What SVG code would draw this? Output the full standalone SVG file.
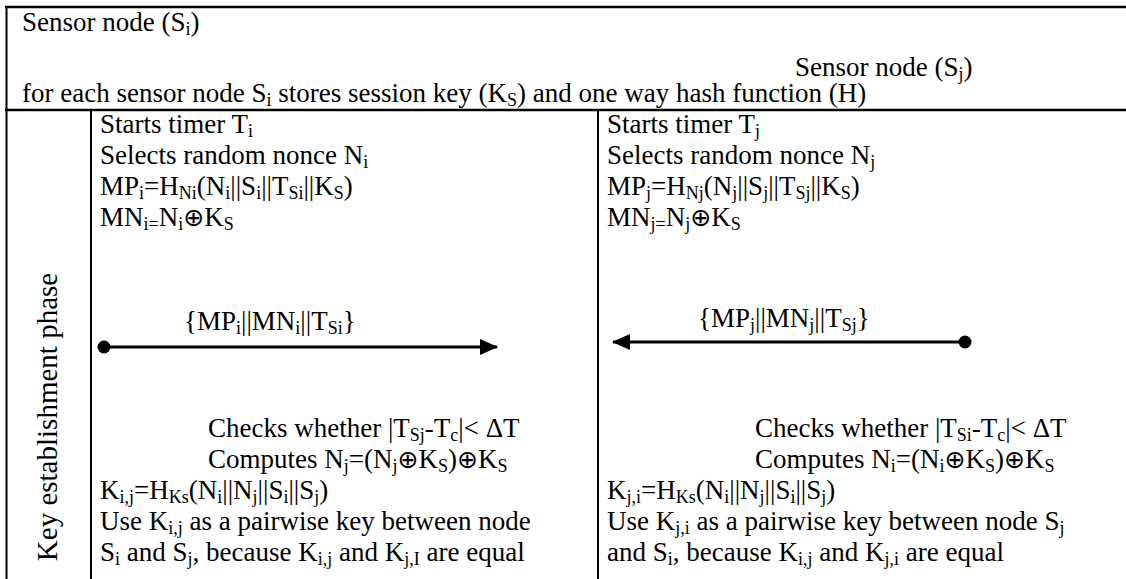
<svg xmlns="http://www.w3.org/2000/svg" width="1126" height="579" viewBox="0 0 1126 579">
<style>
text{font-family:"Liberation Serif","Times New Roman",serif;font-size:27px;fill:#000}
.s{font-size:18px}
.x{font-family:"DejaVu Sans",sans-serif;font-size:25px}
.rot{font-size:29px}
.frame{stroke:#000;fill:none}
.h{stroke-width:2.5}
.v{stroke-width:2}
.msg{stroke:#000;stroke-width:3;fill:none}
</style>
<defs>
<marker id="ah" markerUnits="userSpaceOnUse" markerWidth="18" markerHeight="16" refX="17" refY="8" orient="auto">
<path d="M0,0 L18,8 L0,16 Z" fill="#000"/>
</marker>
</defs>
<rect width="1126" height="579" fill="#fff"/>
<g id="frame" class="frame">
<line class="h" x1="5" y1="7" x2="1126" y2="7"/>
<line class="v" x1="6.5" y1="6" x2="6.5" y2="579"/>
<line class="h" x1="5" y1="110" x2="1126" y2="110"/>
<line class="v" x1="91" y1="110" x2="91" y2="579"/>
<line class="v" x1="598" y1="110" x2="598" y2="579"/>
</g>
<g id="header">
<text x="22" y="31">Sensor node (S<tspan class="s" dy="4">i</tspan><tspan dy="-4">)</tspan></text>
<text x="795" y="76">Sensor node (S<tspan class="s" dy="4">j</tspan><tspan dy="-4">)</tspan></text>
<text x="22" y="102">for each sensor node S<tspan class="s" dy="4">i</tspan><tspan dy="-4"> stores session key (K</tspan><tspan class="s" dy="4">S</tspan><tspan dy="-4">) and one way hash function (H)</tspan></text>
</g>
<g id="phase">
<text class="rot" transform="translate(57,417) rotate(-90)" text-anchor="middle">Key establishment phase</text>
</g>
<g id="node-si">
<text x="100" y="133">Starts timer T<tspan class="s" dy="4">i</tspan></text>
<text x="100" y="164">Selects random nonce N<tspan class="s" dy="4">i</tspan></text>
<text x="100" y="195">MP<tspan class="s" dy="4">i</tspan><tspan dy="-4">=H</tspan><tspan class="s" dy="4">Ni</tspan><tspan dy="-4">(N</tspan><tspan class="s" dy="4">i</tspan><tspan dy="-4">||S</tspan><tspan class="s" dy="4">i</tspan><tspan dy="-4">||T</tspan><tspan class="s" dy="4">Si</tspan><tspan dy="-4">||K</tspan><tspan class="s" dy="4">S</tspan><tspan dy="-4">)</tspan></text>
<text x="100" y="226">MN<tspan class="s" dy="4">i=</tspan><tspan dy="-4">N</tspan><tspan class="s" dy="4">i</tspan><tspan class="x" dy="-4">⊕</tspan>K<tspan class="s" dy="4">S</tspan></text>
<text x="208" y="437">Checks whether |T<tspan class="s" dy="4">Sj</tspan><tspan dy="-4">-T</tspan><tspan class="s" dy="4">c</tspan><tspan dy="-4">|&lt; ΔT</tspan></text>
<text x="208" y="468">Computes N<tspan class="s" dy="4">j</tspan><tspan dy="-4">=(N</tspan><tspan class="s" dy="4">j</tspan><tspan class="x" dy="-4">⊕</tspan>K<tspan class="s" dy="4">S</tspan><tspan dy="-4">)</tspan><tspan class="x">⊕</tspan>K<tspan class="s" dy="4">S</tspan></text>
<text x="100" y="499">K<tspan class="s" dy="4">i,j</tspan><tspan dy="-4">=H</tspan><tspan class="s" dy="4">Ks</tspan><tspan dy="-4">(N</tspan><tspan class="s" dy="4">i</tspan><tspan dy="-4">||N</tspan><tspan class="s" dy="4">j</tspan><tspan dy="-4">||S</tspan><tspan class="s" dy="4">i</tspan><tspan dy="-4">||S</tspan><tspan class="s" dy="4">j</tspan><tspan dy="-4">)</tspan></text>
<text x="100" y="530">Use K<tspan class="s" dy="4">i,j</tspan><tspan dy="-4"> as a pairwise key between node</tspan></text>
<text x="100" y="561">S<tspan class="s" dy="4">i</tspan><tspan dy="-4"> and S</tspan><tspan class="s" dy="4">j</tspan><tspan dy="-4">, because K</tspan><tspan class="s" dy="4">i,j</tspan><tspan dy="-4"> and K</tspan><tspan class="s" dy="4">j,I</tspan><tspan dy="-4"> are equal</tspan></text>
</g>
<g id="node-sj">
<text x="607" y="133">Starts timer T<tspan class="s" dy="4">j</tspan></text>
<text x="607" y="164">Selects random nonce N<tspan class="s" dy="4">j</tspan></text>
<text x="607" y="195">MP<tspan class="s" dy="4">j</tspan><tspan dy="-4">=H</tspan><tspan class="s" dy="4">Nj</tspan><tspan dy="-4">(N</tspan><tspan class="s" dy="4">j</tspan><tspan dy="-4">||S</tspan><tspan class="s" dy="4">j</tspan><tspan dy="-4">||T</tspan><tspan class="s" dy="4">Sj</tspan><tspan dy="-4">||K</tspan><tspan class="s" dy="4">S</tspan><tspan dy="-4">)</tspan></text>
<text x="607" y="226">MN<tspan class="s" dy="4">j=</tspan><tspan dy="-4">N</tspan><tspan class="s" dy="4">j</tspan><tspan class="x" dy="-4">⊕</tspan>K<tspan class="s" dy="4">S</tspan></text>
<text x="755" y="437">Checks whether |T<tspan class="s" dy="4">Si</tspan><tspan dy="-4">-T</tspan><tspan class="s" dy="4">c</tspan><tspan dy="-4">|&lt; ΔT</tspan></text>
<text x="755" y="468">Computes N<tspan class="s" dy="4">i</tspan><tspan dy="-4">=(N</tspan><tspan class="s" dy="4">i</tspan><tspan class="x" dy="-4">⊕</tspan>K<tspan class="s" dy="4">S</tspan><tspan dy="-4">)</tspan><tspan class="x">⊕</tspan>K<tspan class="s" dy="4">S</tspan></text>
<text x="607" y="499">K<tspan class="s" dy="4">j,i</tspan><tspan dy="-4">=H</tspan><tspan class="s" dy="4">Ks</tspan><tspan dy="-4">(N</tspan><tspan class="s" dy="4">i</tspan><tspan dy="-4">||N</tspan><tspan class="s" dy="4">j</tspan><tspan dy="-4">||S</tspan><tspan class="s" dy="4">i</tspan><tspan dy="-4">||S</tspan><tspan class="s" dy="4">j</tspan><tspan dy="-4">)</tspan></text>
<text x="607" y="530">Use K<tspan class="s" dy="4">j,i</tspan><tspan dy="-4"> as a pairwise key between node S</tspan><tspan class="s" dy="4">j</tspan></text>
<text x="607" y="561">and S<tspan class="s" dy="4">i</tspan><tspan dy="-4">, because K</tspan><tspan class="s" dy="4">i,j</tspan><tspan dy="-4"> and K</tspan><tspan class="s" dy="4">j,i</tspan><tspan dy="-4"> are equal</tspan></text>
</g>
<g id="connectors">
<g id="msg-i-to-j">
<line class="msg" x1="104" y1="347" x2="497" y2="347" marker-end="url(#ah)"/>
<circle cx="104" cy="347" r="6.5" fill="#000"/>
<text x="184" y="330">{MP<tspan class="s" dy="4">i</tspan><tspan dy="-4">||MN</tspan><tspan class="s" dy="4">i</tspan><tspan dy="-4">||T</tspan><tspan class="s" dy="4">Si</tspan><tspan dy="-4">}</tspan></text>
</g>
<g id="msg-j-to-i">
<line class="msg" x1="965" y1="342" x2="613" y2="342" marker-end="url(#ah)"/>
<circle cx="965" cy="342" r="6.5" fill="#000"/>
<text x="698" y="327">{MP<tspan class="s" dy="4">j</tspan><tspan dy="-4">||MN</tspan><tspan class="s" dy="4">j</tspan><tspan dy="-4">||T</tspan><tspan class="s" dy="4">Sj</tspan><tspan dy="-4">}</tspan></text>
</g>
</g>
</svg>
